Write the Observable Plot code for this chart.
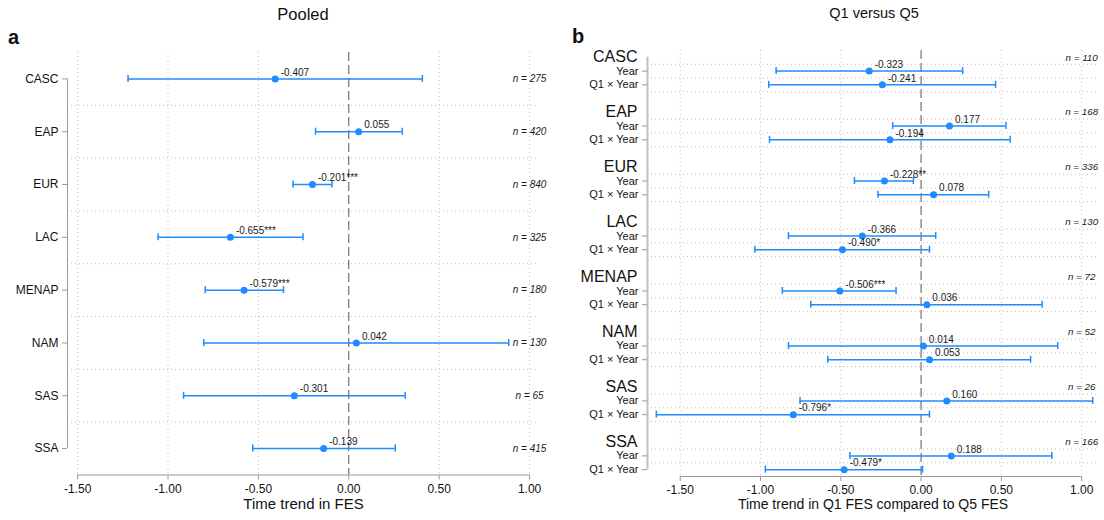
<!DOCTYPE html>
<html>
<head>
<meta charset="utf-8">
<script src="https://cdn.jsdelivr.net/npm/d3@7"></script>
<script src="https://cdn.jsdelivr.net/npm/@observablehq/plot@0.6"></script>
<style>
  body { margin: 0; background: #fff; }
  #wrap { position: relative; width: 1104px; height: 520px; font-family: "Liberation Sans", Arial, Helvetica, sans-serif; color: #111; }
  .ttl { position: absolute; white-space: nowrap; transform: translateX(-50%); }
  .tag { position: absolute; font-weight: bold; font-size: 20px; line-height: 20px; }
  .panel { position: absolute; top: 46px; }
</style>
</head>
<body>
<div id="wrap">
  <div class="ttl" style="left:303px; top:4px; font-size:16.5px; line-height:20px;">Pooled</div>
  <div class="tag" style="left:8px; top:27px;">a</div>
  <div class="ttl" style="left:874px; top:4px; font-size:14.5px; line-height:18px;">Q1 versus Q5</div>
  <div class="tag" style="left:572px; top:26px;">b</div>
  <div id="left" class="panel" style="left:0px;"></div>
  <div id="right" class="panel" style="left:552px;"></div>
</div>
<script>
// ---------- data ----------
const regions = ["CASC", "EAP", "EUR", "LAC", "MENAP", "NAM", "SAS", "SSA"];
const xTicks = [-1.5, -1.0, -0.5, 0, 0.5, 1.0];

// Panel a: pooled
const pooledEst   = [-0.407, 0.055, -0.201, -0.655, -0.579, 0.042, -0.301, -0.139];
const pooledStars = ["", "", "***", "***", "***", "", "", ""];
const pooledLo    = [-1.221, -0.184, -0.308, -1.055, -0.794, -0.802, -0.914, -0.531];
const pooledHi    = [0.407, 0.296, -0.093, -0.253, -0.361, 0.885, 0.312, 0.257];
const pooledN     = [275, 420, 840, 325, 180, 130, 65, 415];

// Panel b: Q1 versus Q5
const terms      = ["Year", "Q1 × Year"];
const yearEst    = [-0.323, 0.177, -0.228, -0.366, -0.506, 0.014, 0.160, 0.188];
const yearStars  = ["", "", "**", "", "***", "", "", ""];
const yearLo     = [-0.903, -0.177, -0.415, -0.826, -0.864, -0.826, -0.754, -0.443];
const yearHi     = [0.259, 0.529, -0.048, 0.091, -0.156, 0.851, 1.069, 0.814];
const interEst   = [-0.241, -0.194, 0.078, -0.490, 0.036, 0.053, -0.796, -0.479];
const interStars = ["", "", "", "*", "", "", "*", "*"];
const interLo    = [-0.949, -0.944, -0.268, -1.035, -0.687, -0.581, -1.649, -0.970];
const interHi    = [0.464, 0.555, 0.421, 0.052, 0.754, 0.682, 0.052, 0.009];
const q15N       = [110, 168, 336, 130, 72, 52, 26, 166];

// ---------- styles ----------
const blue = "#1E8CFF";
const gridColor = "#c0c0c0";
const axisColor = "#9a9a9a";
const zeroColor = "#555";
const font = "'Liberation Sans', Arial, Helvetica, sans-serif";
const fmtTick = d => d.toFixed(2);
const fmtEst = d => d.est.toFixed(3) + d.stars;
const xMax = xTicks[xTicks.length - 1];

function errorMarks(rows, ykey) {
  return [
    Plot.ruleY(rows, {y: ykey, x1: "lo", x2: "hi", stroke: blue, strokeWidth: 1.5}),
    Plot.ruleX(rows, {x: "lo", y1: ykey, y2: ykey, insetTop: -3.5, insetBottom: -3.5, stroke: blue, strokeWidth: 1.5}),
    Plot.ruleX(rows, {x: "hi", y1: ykey, y2: ykey, insetTop: -3.5, insetBottom: -3.5, stroke: blue, strokeWidth: 1.5}),
    Plot.dot(rows, {x: "est", y: ykey, r: 3.5, fill: blue, stroke: "none"}),
    Plot.text(rows, {x: "est", y: ykey, text: fmtEst, textAnchor: "start", dx: 5.5, dy: -6.5, fontSize: 10, fill: "#1a1a1a"})
  ];
}

// ---------- panel a ----------
{
  const rows = regions.map((r, i) => ({i, est: pooledEst[i], lo: pooledLo[i], hi: pooledHi[i], stars: pooledStars[i], n: pooledN[i]}));
  const xDomain = [-1.556, 1.055];
  const yDomain = [-0.5, regions.length - 0.5];
  const seps = d3.range(regions.length - 1).map(i => i + 0.5);
  const chart = Plot.plot({
    width: 552, height: 474,
    marginLeft: 67, marginRight: 13, marginTop: 6, marginBottom: 45.5,
    style: {fontFamily: font, background: "transparent", color: "#111"},
    x: {domain: xDomain},
    y: {domain: yDomain, reverse: true},
    marks: [
      Plot.ruleX(xTicks.filter(t => t !== 0), {stroke: gridColor, strokeDasharray: "1,3"}),
      Plot.ruleY(seps, {stroke: gridColor, strokeDasharray: "1,3"}),
      Plot.ruleX([0], {stroke: zeroColor, strokeDasharray: "9,4"}),
      Plot.ruleY([yDomain[1]], {x1: xTicks[0], x2: xMax, stroke: axisColor}),
      Plot.ruleX([xDomain[0]], {y1: 0, y2: regions.length - 1, stroke: axisColor}),
      Plot.axisX({ticks: xTicks, tickFormat: fmtTick, tickSize: 5, tickPadding: 4, fontSize: 12, stroke: axisColor, label: null}),
      Plot.axisY({ticks: rows.map(d => d.i), tickFormat: i => regions[i], tickSize: 5, tickPadding: 4, fontSize: 12, stroke: axisColor, label: null}),
      ...errorMarks(rows, "i"),
      Plot.text(rows, {x: () => xMax, y: "i", text: d => `n = ${d.n}`, fontStyle: "italic", fontSize: 10, fill: "#1a1a1a"}),
      Plot.text(["Time trend in FES"], {text: d => d, frameAnchor: "bottom", dy: 33.5, fontSize: 15})
    ]
  });
  document.getElementById("left").append(chart);
}

// ---------- panel b ----------
{
  const perGroup = 4; // header, Year, Q1 × Year, spacer
  const rows = [];
  regions.forEach((r, g) => {
    rows.push({row: perGroup * g + 1, est: yearEst[g], lo: yearLo[g], hi: yearHi[g], stars: yearStars[g]});
    rows.push({row: perGroup * g + 2, est: interEst[g], lo: interLo[g], hi: interHi[g], stars: interStars[g]});
  });
  const headers = regions.map((r, g) => ({row: perGroup * g, label: r, n: q15N[g]}));
  const lastRow = perGroup * (regions.length - 1) + 2;
  const xDomain = [-1.704, 1.105];
  const yDomain = [-0.5, lastRow + 0.5];
  const seps = regions.flatMap((r, g) => [0.5, 1.5, 2.5].map(o => perGroup * g + o)).filter(v => v < yDomain[1]);
  const chart = Plot.plot({
    width: 552, height: 474,
    marginLeft: 95, marginRight: 6, marginTop: 4, marginBottom: 44,
    style: {fontFamily: font, background: "transparent", color: "#111"},
    x: {domain: xDomain},
    y: {domain: yDomain, reverse: true},
    marks: [
      Plot.ruleX(xTicks.filter(t => t !== 0), {stroke: gridColor, strokeDasharray: "1,3"}),
      Plot.ruleY(seps, {stroke: gridColor, strokeDasharray: "1,3"}),
      Plot.ruleX([0], {stroke: zeroColor, strokeDasharray: "9,4"}),
      Plot.ruleY([yDomain[1]], {x1: xTicks[0], x2: xMax, stroke: axisColor}),
      Plot.ruleX([xDomain[0]], {y1: 0, y2: lastRow, stroke: "#c0c0c0", strokeWidth: 2}),
      Plot.axisX({ticks: xTicks, tickFormat: fmtTick, tickSize: 5, tickPadding: 4, fontSize: 12, stroke: axisColor, label: null}),
      Plot.axisY({ticks: headers.map(d => d.row), tickFormat: v => regions[v / perGroup], tickSize: 0, tickPadding: 10, fontSize: 16, label: null}),
      Plot.axisY({ticks: rows.map(d => d.row), tickFormat: v => terms[(v % perGroup) - 1], tickSize: 5, tickPadding: 4, fontSize: 11, stroke: axisColor, label: null}),
      ...errorMarks(rows, "row"),
      Plot.text(headers, {x: () => xMax, y: "row", text: d => `n = ${d.n}`, fontStyle: "italic", fontSize: 9.8, fill: "#1a1a1a"}),
      Plot.text(["Time trend in Q1 FES compared to Q5 FES"], {text: d => d, frameAnchor: "bottom", dy: 32, fontSize: 14})
    ]
  });
  document.getElementById("right").append(chart);
}
</script>
</body>
</html>
